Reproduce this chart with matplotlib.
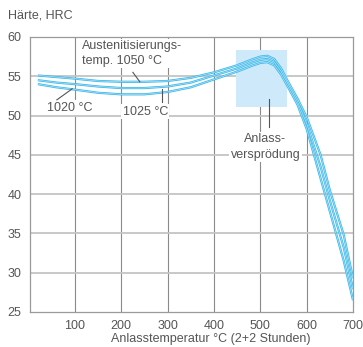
import matplotlib
matplotlib.use("Agg")
import matplotlib.pyplot as plt
from matplotlib.patches import Rectangle

plt.rcParams['font.family'] = ['Liberation Sans', 'DejaVu Sans']

# Anlasstemperatur (°C) und Härte (HRC) je Austenitisierungstemperatur
temp = [20, 60, 100, 150, 200, 250, 300, 350, 400, 450, 480, 500, 515, 530,
        545, 560, 580, 600, 630, 650, 680, 700]
hrc_1050 = [55.1, 54.9, 54.7, 54.4, 54.3, 54.3, 54.4, 54.8, 55.5, 56.4, 57.1,
            57.5, 57.6, 57.2, 56.0, 54.3, 52.2, 49.8, 45.0, 40.5, 34.8, 29.3]
hrc_1025 = [54.5, 54.2, 54.0, 53.7, 53.5, 53.5, 53.7, 54.2, 55.1, 56.0, 56.7,
            57.1, 57.2, 56.8, 55.6, 54.0, 51.8, 49.0, 43.5, 39.2, 33.2, 27.9]
hrc_1020 = [54.0, 53.6, 53.3, 52.9, 52.7, 52.7, 53.0, 53.6, 54.6, 55.6, 56.3,
            56.7, 56.8, 56.4, 55.2, 53.6, 51.4, 48.3, 42.0, 37.8, 31.5, 26.5]

xticks = [100, 200, 300, 400, 500, 600, 700]
yticks = [25, 30, 35, 40, 45, 50, 55, 60]

grey = '#555555'
blue = '#3fb9ea'

fig = plt.figure(figsize=(3.63, 3.47), dpi=100)
ax = fig.add_axes([0.0826, 0.1009, 0.8899, 0.7925])
ax.set_xlim(3, 700)
ax.set_ylim(25, 60)

# Gitter
for x in xticks[:-1]:
    ax.axvline(x, color='#8a8a8a', lw=0.8, zorder=1)
for y in yticks[1:-1]:
    ax.axhline(y, color='#c4c4c4', lw=1.3, zorder=1)

# Bereich Anlassversprödung
ax.add_patch(Rectangle((447, 51.1), 110, 7.2, facecolor='#cde9fa',
                       edgecolor='none', zorder=2))

for vals in (hrc_1050, hrc_1025, hrc_1020):
    ax.plot(temp, vals, color=blue, lw=1.6, zorder=4, solid_capstyle='butt')
    ax.plot(temp, vals, color='#c6ebfa', lw=0.4, zorder=5)

box = dict(facecolor='white', edgecolor='none', pad=1.0)
fs = 9
ax.text(115, 57.9, 'Austenitisierungs-\ntemp. 1050 °C', fontsize=fs, color=grey,
        ha='left', va='center', linespacing=1.3, bbox=box, zorder=6)
ax.plot([225, 240], [55.5, 54.3], color=grey, lw=0.8, zorder=6)

ax.text(89, 51.0, '1020 °C', fontsize=fs, color=grey, ha='center', va='center',
        bbox=box, zorder=6)
ax.plot([61, 94], [52.0, 53.4], color=grey, lw=0.8, zorder=6)

ax.text(252, 50.5, '1025 °C', fontsize=fs, color=grey, ha='center', va='center',
        bbox=box, zorder=6)
ax.plot([288, 288], [51.7, 53.4], color=grey, lw=0.8, zorder=6)

ax.text(511, 46.0, 'Anlass-\nversprödung', fontsize=fs, color=grey, ha='center',
        va='center', linespacing=1.35, bbox=box, zorder=6)
ax.plot([519, 519], [48.5, 52.1], color=grey, lw=0.8, zorder=6)

ax.set_xticks(xticks)
ax.set_yticks(yticks)
ax.tick_params(length=0, labelsize=fs, colors=grey, pad=6)
for s in ax.spines.values():
    s.set_color('#9a9a9a')
    s.set_linewidth(0.9)

fig.text(8 / 363, 1 - 15 / 347, 'Härte, HRC', fontsize=fs, color=grey,
         ha='left', va='center')
fig.text(211 / 363, 1 - 339 / 347, 'Anlasstemperatur °C (2+2 Stunden)',
         fontsize=fs, color=grey, ha='center', va='center')

fig.savefig('out.png', dpi=100)
